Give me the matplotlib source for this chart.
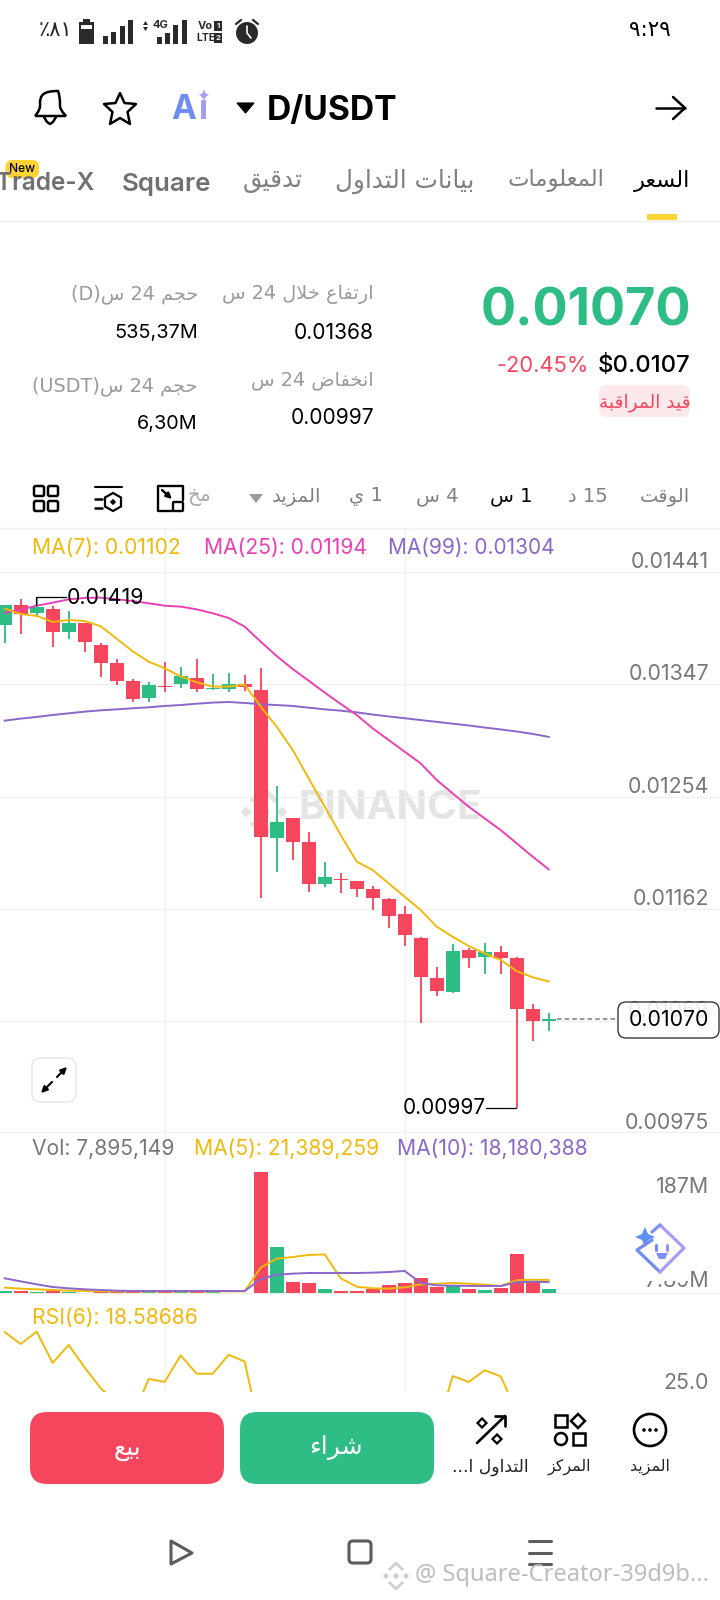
import re
import matplotlib
matplotlib.use("Agg")
import matplotlib.pyplot as plt
from matplotlib.patches import Rectangle, FancyBboxPatch, Circle, Polygon, PathPatch
from matplotlib.path import Path

plt.rcParams['font.family'] = ['Inter', 'DejaVu Sans']

# candles
opens = [0.013970, 0.014136, 0.014067, 0.014106, 0.013909, 0.013984, 0.013804, 0.013654, 0.013502, 0.013366,
         0.013463, 0.013477, 0.013532, 0.013435, 0.013438, 0.013483, 0.013433, 0.012198, 0.012367, 0.012164,
         0.011818, 0.011863, 0.011841, 0.011774, 0.011693, 0.011571, 0.011369, 0.011037, 0.010924, 0.011270,
         0.011214, 0.011250, 0.011200, 0.010777, 0.010680]
closes = [0.014136, 0.014061, 0.014117, 0.013909, 0.013987, 0.013829, 0.013657, 0.013507, 0.013355, 0.013474,
          0.013452, 0.013543, 0.013435, 0.013447, 0.013480, 0.013458, 0.012212, 0.012336, 0.012170, 0.011816,
          0.011874, 0.011849, 0.011777, 0.011704, 0.011555, 0.011394, 0.011043, 0.010932, 0.011259, 0.011203,
          0.011250, 0.011203, 0.010782, 0.010683, 0.010700]
highs = [0.014136, 0.014189, 0.014200, 0.014128, 0.014089, 0.013989, 0.013823, 0.013685, 0.013524, 0.013494,
         0.013665, 0.013624, 0.013685, 0.013563, 0.013574, 0.013555, 0.013613, 0.012630, 0.012367, 0.012248,
         0.012004, 0.011907, 0.011841, 0.011804, 0.011704, 0.011635, 0.011380, 0.011131, 0.011320, 0.011284,
         0.011331, 0.011303, 0.011214, 0.010818, 0.010749]
lows = [0.013818, 0.013898, 0.014045, 0.013787, 0.013856, 0.013748, 0.013535, 0.013474, 0.013333, 0.013333,
        0.013416, 0.013444, 0.013416, 0.013430, 0.013416, 0.013424, 0.011705, 0.011915, 0.012018, 0.011755,
        0.011796, 0.011746, 0.011713, 0.011602, 0.011455, 0.011303, 0.010666, 0.010890, 0.010910, 0.011123,
        0.011073, 0.011073, 0.009954, 0.010517, 0.010600]

ma7 = [0.014106, 0.014061, 0.014045, 0.013995, 0.014011, 0.014003, 0.013959, 0.013856, 0.013751, 0.013665,
       0.013610, 0.013543, 0.013494, 0.013458, 0.013458, 0.013474, 0.013292, 0.013125, 0.012932, 0.012696,
       0.012461, 0.012225, 0.012004, 0.011934, 0.011823, 0.011713, 0.011602, 0.011464, 0.011380, 0.011303,
       0.011242, 0.011187, 0.011095, 0.011043, 0.011009]
ma25 = [0.014072, 0.014097, 0.014130, 0.014155, 0.014183, 0.014194, 0.014197, 0.014183, 0.014169, 0.014150,
        0.014130, 0.014122, 0.014100, 0.014067, 0.014028, 0.013956, 0.013831, 0.013712, 0.013604, 0.013507,
        0.013408, 0.013314, 0.013222, 0.013111, 0.013014, 0.012917, 0.012820, 0.012682, 0.012571, 0.012460,
        0.012363, 0.012266, 0.012156, 0.012045, 0.011940]
ma99 = [0.013175, 0.013192, 0.013206, 0.013222, 0.013236, 0.013250, 0.013261, 0.013269, 0.013278, 0.013286,
        0.013297, 0.013305, 0.013316, 0.013325, 0.013330, 0.013322, 0.013311, 0.013305, 0.013297, 0.013283,
        0.013269, 0.013258, 0.013244, 0.013226, 0.013210, 0.013195, 0.013180, 0.013165, 0.013150, 0.013135,
        0.013118, 0.013102, 0.013085, 0.013065, 0.013040]

# volume in millions
volumes = [5.1, 4.6, 3.6, 4.1, 3.6, 1.0, 3.1, 3.1, 3.6, 3.6, 4.1, 3.6, 3.6, 3.6, 1.5, 1.5, 187, 72, 18.4, 16.9,
           7.7, 4.1, 5.1, 8.2, 13.3, 16.9, 24.5, 11.2, 13.8, 7.2, 6.6, 9.7, 61.3, 18.9, 7.895]
vol_ma5 = [9.7, 8.2, 7.2, 6.1, 5.1, 4.6, 4.1, 4.1, 4.1, 4.1, 4.1, 4.1, 4.1, 4.1, 4.1, 4.1, 40.4, 54.2, 56.7, 59.8,
           60.8, 24.0, 11.2, 8.7, 8.2, 10.2, 14.8, 15.8, 16.9, 15.8, 14.3, 12.3, 21.0, 22.0, 21.39]
vol_ma10 = [24, 19.4, 14.8, 10.7, 8.7, 7.2, 6.1, 5.1, 4.6, 4.6, 4.6, 4.6, 4.6, 4.6, 4.6, 4.6, 23, 29.6, 31.2, 32.2,
            32.2, 32.2, 32.2, 32.7, 33.7, 35.3, 16.9, 13.3, 12.8, 12.3, 12.3, 12.3, 17.9, 18.9, 18.18]
# the middle of the rsi line runs below the visible part of the pane
rsi6 = [58.3, 52.1, 58.5, 42.2, 51.6, 39.8, 29, 22, 14.2, 33.9, 32.3, 46.2, 36.6, 36.6, 46.5, 42.9, 5, 12, 10, 14,
        12, 11, 10, 9, 10, 8, 9, 7, 35.4, 32.3, 38.4, 35.2, 17, 14, 18.59]

# grid levels as measured, the labels are what the app prints next to them
price_ticks = [0.01441, 0.01348, 0.01254, 0.01161, 0.01068, 0.00975]
price_labels = ['0.01441', '0.01347', '0.01254', '0.01162', '0.01069', '0.00975']

RED = '#F6465D'
GREEN = '#2EBD85'
YELLOW = '#F0B90B'
PINK = '#EB40B5'
PURPLE = '#8D66C9'
GRAY = '#707A8A'
LABEL = '#777777'
LIGHT = '#9A9A9A'
GRID = '#EEF0F1'
AR_FONT = ['DejaVu Sans']

# joining forms in Arabic presentation forms B: first code point, number of forms
AR = {'ء': (0xFE80, 1), 'آ': (0xFE81, 2), 'أ': (0xFE83, 2), 'ؤ': (0xFE85, 2), 'إ': (0xFE87, 2), 'ئ': (0xFE89, 4),
      'ا': (0xFE8D, 2), 'ب': (0xFE8F, 4), 'ة': (0xFE93, 2), 'ت': (0xFE95, 4), 'ث': (0xFE99, 4), 'ج': (0xFE9D, 4),
      'ح': (0xFEA1, 4), 'خ': (0xFEA5, 4), 'د': (0xFEA9, 2), 'ذ': (0xFEAB, 2), 'ر': (0xFEAD, 2), 'ز': (0xFEAF, 2),
      'س': (0xFEB1, 4), 'ش': (0xFEB5, 4), 'ص': (0xFEB9, 4), 'ض': (0xFEBD, 4), 'ط': (0xFEC1, 4), 'ظ': (0xFEC5, 4),
      'ع': (0xFEC9, 4), 'غ': (0xFECD, 4), 'ف': (0xFED1, 4), 'ق': (0xFED5, 4), 'ك': (0xFED9, 4), 'ل': (0xFEDD, 4),
      'م': (0xFEE1, 4), 'ن': (0xFEE5, 4), 'ه': (0xFEE9, 4), 'و': (0xFEED, 2), 'ى': (0xFEEF, 2), 'ي': (0xFEF1, 4)}


# matplotlib does no shaping, so join the letters and lay the line out by hand
def ar(text):
    out = []
    i = 0
    while i < len(text):
        c = text[i]
        if c not in AR:
            out.append(c)
            i += 1
            continue
        prev_joins = i > 0 and text[i-1] in AR and AR[text[i-1]][1] == 4
        if c == 'ل' and i + 1 < len(text) and text[i+1] == 'ا':
            out.append(chr(0xFEFC if prev_joins else 0xFEFB))
            i += 2
            continue
        next_joins = i + 1 < len(text) and text[i+1] in AR
        start, n = AR[c]
        if n == 1:
            form = 0
        elif n == 2:
            form = 1 if prev_joins else 0
        else:
            form = {(0, 0): 0, (1, 0): 1, (0, 1): 2, (1, 1): 3}[(int(prev_joins), int(next_joins))]
        out.append(chr(start + form))
        i += 1
    s = ''.join(out)[::-1]
    s = re.sub(r'[0-9A-Za-z]+', lambda m: m.group()[::-1], s)
    return s.translate(str.maketrans('()', ')('))


def pane(top, bottom):
    a = fig.add_axes([0, 1 - bottom/1600, 1, (bottom - top)/1600])
    a.set_xlim((0 - 4.7)/16, (720 - 4.7)/16)
    a.set_xticks([10, 25])
    a.tick_params(axis='x', length=0, labelbottom=False)
    a.grid(axis='x', color=GRID, lw=1)
    a.set_axisbelow(True)
    a.yaxis.tick_right()
    a.tick_params(axis='y', length=0, pad=-7.9, labelsize=15.4, labelcolor=LABEL)
    for s in ['top', 'left', 'right']:
        a.spines[s].set_visible(False)
    a.spines['bottom'].set_color(GRID)
    a.spines['bottom'].set_linewidth(1.4)
    return a


def side_label(a, value, s, dy_px):
    # label on the right edge, dy_px below the level it belongs to
    a.annotate(s, xy=(1, value), xycoords=a.get_yaxis_transform(), xytext=(-7.9, -dy_px*0.72),
               textcoords='offset points', ha='right', va='center', fontsize=15.4, color=LABEL)


def txt(x, y, s, size, color='black', ha='center', weight='normal', family=None, **kw):
    return ui.text(x, y, s, fontsize=size, color=color, ha=ha, va='center', fontweight=weight,
                   family=family or ['Inter', 'DejaVu Sans'], **kw)


def atxt(x, y, s, size, color='black', ha='center', **kw):
    return txt(x, y, ar(s), size, color, ha, family=AR_FONT, **kw)


def line(xs, ys, color='black', lw=1.5, **kw):
    ui.plot(xs, ys, color=color, lw=lw, solid_capstyle='round', solid_joinstyle='round', **kw)


def box(x0, y0, x1, y1, r, fc='none', ec='black', lw=1.5, **kw):
    p = FancyBboxPatch((x0 + r, y0 + r), x1 - x0 - 2*r, y1 - y0 - 2*r, boxstyle='round,pad=%f' % r,
                       fc=fc, ec=ec, lw=lw, **kw)
    ui.add_patch(p)


def diamond(cx, cy, r, fc='none', ec='black', lw=1.5, target=None):
    (target or ui).add_patch(Polygon([(cx, cy - r), (cx + r, cy), (cx, cy + r), (cx - r, cy)], closed=True,
                                     fc=fc, ec=ec, lw=lw, transform=ui.transData))


def binance_logo(target, cx, cy, r, color, lw):
    # small diamonds left, middle and right, chevrons above and below
    for dx, size in [(-0.78, 0.24), (0, 0.26), (0.78, 0.24)]:
        diamond(cx + dx*r, cy, size*r, fc=color, ec='none', lw=0, target=target)
    for sign in [-1, 1]:
        target.plot([cx - 0.55*r, cx, cx + 0.55*r], [cy + sign*0.45*r, cy + sign*r, cy + sign*0.45*r],
                    color=color, lw=lw, transform=ui.transData, solid_capstyle='butt', zorder=1)


fig = plt.figure(figsize=(7.2, 16), dpi=100, facecolor='white')
ui = fig.add_axes([0, 0, 1, 1], zorder=5)
ui.set_xlim(0, 720)
ui.set_ylim(1600, 0)
ui.axis('off')
ui.patch.set_alpha(0)

# ---- price pane
idx = list(range(len(opens)))
ax = pane(529, 1133)
ax.set_ylim(0.00975, 0.014767)
ax.set_yticks(price_ticks)
ax.set_yticklabels(price_labels)
for t in ax.get_yticklabels():
    t.set_va('bottom')
    t.set_ha('right')
ax.grid(axis='y', color=GRID, lw=1)

colors = [GREEN if c >= o else RED for o, c in zip(opens, closes)]
ax.text(0.414, 0.538, 'BINANCE', transform=ax.transAxes, fontsize=29, fontweight='bold', color='#E4E4E4',
        va='center', ha='left', zorder=0.5)
binance_logo(ax, 264, 812, 23, '#E4E4E4', 3.6)

ax.vlines(idx, lows, highs, colors=colors, lw=1.35, zorder=2)
ax.bar(idx, [max(abs(c - o), 0.000012) for o, c in zip(opens, closes)], bottom=[min(o, c) for o, c in zip(opens, closes)],
       width=0.875, color=colors, zorder=2)
ax.plot(idx, ma99, color=PURPLE, lw=1.4, zorder=3)
ax.plot(idx, ma25, color=PINK, lw=1.4, zorder=3)
ax.plot(idx, ma7, color=YELLOW, lw=1.4, zorder=3)
ax.hlines(0.01070, 34.5, 38.4, colors=GRAY, lw=1.1, linestyles=(0, (3, 2)), zorder=3)

# ---- volume pane
vx = pane(1133, 1294)
vx.set_ylim(0, 246.8)
vx.bar(idx, volumes, width=0.875, color=colors, zorder=2)
vx.plot(idx, vol_ma5, color=YELLOW, lw=1.4, zorder=3)
vx.plot(idx, vol_ma10, color=PURPLE, lw=1.4, zorder=3)
vx.set_yticks([])
side_label(vx, 187, '187M', 15)
side_label(vx, 7.895, '7.89M', -8)

# ---- rsi pane
rx = pane(1294, 1396)
rx.set_ylim(25, 78.125)
rx.plot(idx, rsi6, color=YELLOW, lw=1.4, zorder=3)
rx.set_yticks([])
side_label(rx, 25, '25.0', -13)
rx.spines['bottom'].set_visible(False)

# ---- legends over the panes
txt(32, 548, 'MA(7): 0.01102', 15.2, YELLOW, 'left')
txt(204, 548, 'MA(25): 0.01194', 15.2, PINK, 'left')
txt(388, 548, 'MA(99): 0.01304', 15, PURPLE, 'left')
txt(32, 1149, 'Vol: 7,895,149', 15.2, LABEL, 'left')
txt(194, 1149, 'MA(5): 21,389,259', 15.2, YELLOW, 'left')
txt(397, 1149, 'MA(10): 18,180,388', 15.2, PURPLE, 'left')
txt(32, 1318, 'RSI(6): 18.58686', 15.2, YELLOW, 'left')

# high / low marks
line([36, 36, 66], [605, 597, 597], lw=0.9)
txt(67, 598, '0.01419', 15.4, ha='left')
line([486, 516], [1108, 1108], lw=0.9)
txt(486, 1108, '0.00997', 15, ha='right')

# current price box
box(618, 1002, 719, 1038, 8, fc=(1, 1, 1, 0.85), ec='#222222', lw=0.9)
txt(709, 1020, '0.01070', 15.4, ha='right')

# fullscreen button
box(32, 1058, 76, 1102, 9, fc='white', ec='#ECECEC', lw=1.4)
ui.annotate('', xy=(67, 1067), xytext=(57, 1077), arrowprops=dict(arrowstyle='-|>', color='black', lw=1.5, shrinkA=0, shrinkB=0, mutation_scale=9))
ui.annotate('', xy=(41, 1093), xytext=(52, 1082), arrowprops=dict(arrowstyle='-|>', color='black', lw=1.5, shrinkA=0, shrinkB=0, mutation_scale=9))

# smiley over the volume labels
ui.add_patch(Rectangle((640, 1262), 48, 19, fc='white', ec='none'))
line([652, 637, 660, 660], [1240, 1250, 1272, 1272], color='#6F8CF5', lw=2.3)
line([660, 684, 660], [1272, 1248, 1225], color='#A99BF6', lw=2.3)
line([660, 652], [1225, 1232], color='#7F90F5', lw=2.3)
ui.add_patch(Polygon([(645, 1227), (648, 1234), (655, 1237), (648, 1240), (645, 1247), (642, 1240), (635, 1237), (642, 1234)],
                     closed=True, fc='#5F8FF8', ec='none'))
line([656, 656], [1245, 1250], color='#6F8CF5', lw=2.2)
line([667, 667], [1245, 1250], color='#8F95F5', lw=2.2)
ui.add_patch(Polygon([(656, 1253), (668, 1253), (665, 1259), (659, 1259)], closed=True, fc='#7F90F5', ec='none'))

# ---- status bar
txt(650, 30, '٩:٢٩', 15.5, family=AR_FONT)
txt(56, 30, '٪٨١', 15, '#222222', family=AR_FONT)
DARK = '#2A2A2A'
ui.add_patch(Rectangle((79, 22), 15, 22, fc=DARK, ec='none'))
ui.add_patch(Rectangle((83, 19), 7, 3, fc=DARK, ec='none'))
ui.add_patch(Rectangle((81, 25), 11, 4, fc='white', ec='none'))
for bx, top in [(103, 36), (111, 32), (120, 26), (128, 20)]:
    ui.add_patch(Rectangle((bx, top), 5, 44 - top, fc=DARK, ec='none'))
for bx, top in [(157, 37), (165, 33), (173, 25), (182, 20)]:
    ui.add_patch(Rectangle((bx, top), 5, 44 - top, fc=DARK, ec='none'))
ui.add_patch(Polygon([(143, 25), (148, 25), (145.5, 21)], fc=DARK, ec='none'))
ui.add_patch(Polygon([(143, 27), (148, 27), (145.5, 31)], fc=DARK, ec='none'))
txt(160, 25, '4G', 8, DARK, weight='bold')
txt(205, 26, 'Vo', 8, DARK, weight='bold')
txt(206, 38, 'LTE', 7.5, DARK, weight='bold')
ui.add_patch(Rectangle((214, 21), 8, 10, fc=DARK, ec='none'))
ui.add_patch(Rectangle((214, 33), 8, 10, fc=DARK, ec='none'))
txt(218, 26, '1', 5.5, 'white', weight='bold')
txt(218, 38, '2', 5.5, 'white', weight='bold')
ui.add_patch(Circle((247, 33), 11, fc=DARK, ec='none'))
line([247, 247, 251], [26, 33, 38], color='white', lw=1.2)
line([236, 241], [24, 20], color=DARK, lw=1.6)
line([258, 253], [24, 20], color=DARK, lw=1.6)

# ---- header
bell = Path([(35, 116), (41, 109), (40, 104), (40, 96), (42, 91), (58, 91), (60, 96), (60, 104), (59, 109), (66, 116), (35, 116)],
            [Path.MOVETO, Path.CURVE3, Path.CURVE3, Path.CURVE4, Path.CURVE4, Path.CURVE4, Path.CURVE3, Path.CURVE3, Path.CURVE3, Path.CURVE3, Path.LINETO])
ui.add_patch(PathPatch(bell, fc='none', ec='black', lw=1.8))
line([44, 47, 50, 53, 56], [117, 122, 124, 122, 117], lw=1.8)
star = [(120, 93), (124.5, 103), (136, 104), (127.5, 112), (130, 124), (120, 118), (110, 124), (112.5, 112), (104, 104), (115.5, 103)]
ui.add_patch(Polygon(star, closed=True, fc='none', ec='black', lw=1.8, joinstyle='round'))
txt(171, 110, 'A', 24, '#6F8CF5', 'left', weight='bold')
txt(198, 110, 'i', 24, '#A79AF2', 'left', weight='bold')
ui.add_patch(Polygon([(204, 89), (205.5, 93), (209, 95), (205.5, 97), (204, 101), (202.5, 97), (199, 95), (202.5, 93)], closed=True, fc='#C79BEF', ec='none'))
ui.add_patch(Polygon([(237, 103), (254, 103), (245.5, 113)], closed=True, fc='black', ec='black', lw=0.8, joinstyle='round'))
txt(267, 111, 'D/USDT', 24.2, ha='left', weight='bold')
line([656, 685], [108, 108], lw=1.8)
line([673, 685, 673], [97, 108, 119], lw=1.8)

# ---- tabs
atxt(690, 181, 'السعر', 16.2, ha='right')
atxt(604, 181, 'المعلومات', 16.4, '#808080', ha='right')
atxt(474, 181, 'بيانات التداول', 17.8, '#808080', ha='right')
atxt(303, 181, 'تدقيق', 17.8, '#808080', ha='right')
txt(211, 184, 'Square', 18.6, '#707070', 'right', weight='semibold')
txt(94, 184, 'Trade-X', 17.6, '#707070', 'right', weight='semibold')
box(5.5, 160, 39, 178, 7, fc='#FCD535', ec='none', lw=0)
txt(22, 169, 'New', 8.6, weight='medium')
ui.add_patch(Rectangle((647, 214), 30, 6, fc='#FCD535', ec='none'))
line([0, 720], [221, 221], color='#ECECEC', lw=1)

# ---- ticker block
txt(691, 312, '0.01070', 37.6, GREEN, 'right', weight='bold')
txt(690, 366, '$0.0107', 17.2, ha='right', weight='medium')
txt(589, 366, '-20.45%', 15.8, RED, 'right')
box(599, 385, 690, 417, 8, fc='#FDE9EC', ec='none', lw=0)
atxt(645, 403, 'قيد المراقبة', 13.3, RED)
atxt(374, 294, 'ارتفاع خلال 24 س', 13.9, LIGHT, ha='right')
txt(374, 333, '0.01368', 15.1, ha='right')
atxt(374, 380, 'انخفاض 24 س', 13.9, LIGHT, ha='right')
txt(374, 418, '0.00997', 15.1, ha='right')
atxt(198, 294, 'حجم 24 س(D)', 13.9, LIGHT, ha='right')
txt(198, 333, '535,37M', 14.3, ha='right')
atxt(198, 386, 'حجم 24 س(USDT)', 13.9, LIGHT, ha='right')
txt(198, 424, '6,30M', 14.3, ha='right')

# ---- interval toolbar
atxt(690, 496, 'الوقت', 14, '#808080', ha='right')
atxt(608, 496, '15 د', 14, '#808080', ha='right')
atxt(533, 496, '1 س', 14, ha='right')
atxt(459, 496, '4 س', 14, '#808080', ha='right')
atxt(383, 496, '1 ي', 14, '#808080', ha='right')
atxt(321, 496, 'المزيد', 14, '#808080', ha='right')
ui.add_patch(Polygon([(249, 494), (263, 494), (256, 503)], closed=True, fc='#9A9A9A', ec='none'))
atxt(211, 497, 'مخ', 14.5, '#AAAAAA', ha='right')
# grid icon
for bx, by in [(34, 486), (48, 486), (34, 501), (48, 501)]:
    box(bx, by, bx + 10, by + 10, 1.5, lw=1.8)
# settings icon
line([95, 122], [487, 487], lw=1.5)
line([95, 102], [499, 499], lw=1.8)
line([95, 102], [508, 508], lw=1.8)
ui.add_patch(Polygon([(113, 493), (121, 497.5), (121, 506.5), (113, 511), (105, 506.5), (105, 497.5)], closed=True, fc='none', ec='black', lw=1.6))
diamond(113, 502, 2.6, fc='black', ec='black', lw=0.5)
# chart type icon
line([172, 158, 158, 183, 183], [511, 511, 486, 486, 500], lw=1.7)
box(173, 502, 183, 511, 1, lw=1.7)
ui.annotate('', xy=(172, 499), xytext=(162, 490), arrowprops=dict(arrowstyle='-|>', color='black', lw=1.7, shrinkA=0, shrinkB=0, mutation_scale=8))
line([0, 720], [529, 529], color='#F0F1F2', lw=1.6)

# ---- bottom bar, covers the end of the rsi pane
ui.add_patch(Rectangle((0, 1392), 720, 208, fc='white', ec='none'))
box(30, 1412, 224, 1484, 17, fc=RED, ec='none', lw=0)
box(240, 1412, 434, 1484, 17, fc=GREEN, ec='none', lw=0)
atxt(127, 1449, 'بيع', 18, 'white')
atxt(336, 1447, 'شراء', 18, 'white')
ui.add_patch(Circle((650, 1430), 16, fc='none', ec='black', lw=1.9))
for dx in [-6, 0, 6]:
    ui.add_patch(Circle((650 + dx, 1430), 1.8, fc='black', ec='none'))
ui.add_patch(Rectangle((555, 1415), 12, 12, fc='none', ec='black', lw=1.8))
diamond(578, 1421, 7, lw=1.8)
ui.add_patch(Circle((561, 1439), 6, fc='none', ec='black', lw=1.8))
ui.add_patch(Rectangle((573, 1433), 12, 12, fc='none', ec='black', lw=1.8))
line([477, 505], [1443, 1416], lw=1.9)
line([495, 505, 505], [1416, 1416, 1426], lw=1.9)
diamond(482, 1423, 4.5, lw=1.6)
diamond(497, 1439, 4.5, lw=1.6)
atxt(650, 1467, 'المزيد', 11.4, '#222222')
atxt(569, 1467, 'المركز', 11.4, '#222222')
atxt(490, 1467, 'التداول ا...', 12.4, '#222222')

# ---- android nav bar
NAV = '#5C5C5C'
ui.add_patch(Polygon([(171, 1541), (192, 1553), (171, 1564)], closed=True, fc='none', ec=NAV, lw=2.2, joinstyle='round'))
box(349, 1541, 371, 1563, 4, ec=NAV, lw=2.2)
for y in [1541, 1553, 1564]:
    line([529, 551], [y, y], color=NAV, lw=2.2)

# ---- watermark of the source site
binance_logo(ui, 396, 1576, 13, '#CFCFCF', 2)
txt(415, 1575, '@ Square-Creator-39d9b...', 17, '#BDBDBD', 'left', family=['Noto Sans', 'DejaVu Sans'])

fig.savefig('out.png', dpi=100, facecolor='white')
